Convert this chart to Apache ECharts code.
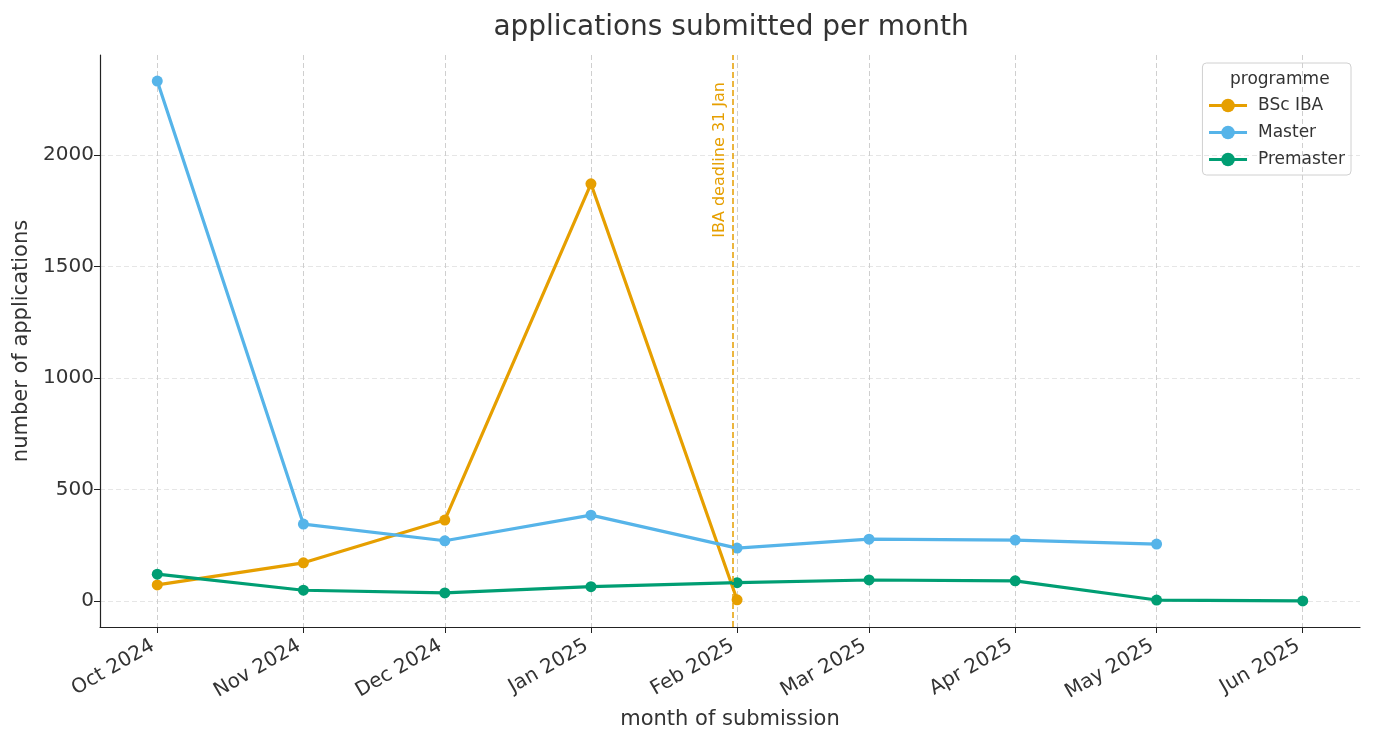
<!DOCTYPE html>
<html><head><meta charset="utf-8">
<script src="https://cdn.jsdelivr.net/npm/echarts@6/dist/echarts.min.js"></script>
<style>html,body{margin:0;padding:0;background:#fff}#c{width:1373px;height:743px}</style>
</head><body><div id="c"></div>
<script>
const months = ['2024-10-01','2024-11-01','2024-12-01','2025-01-01','2025-02-01','2025-03-01','2025-04-01','2025-05-01','2025-06-01'];
const monthLabels = ['Oct 2024','Nov 2024','Dec 2024','Jan 2025','Feb 2025','Mar 2025','Apr 2025','May 2025','Jun 2025'];
const bscIBA = [72, 171, 363, 1872, 5];
const master = [2333, 345, 270, 385, 237, 277, 273, 255];
const premaster = [120, 48, 36, 64, 82, 94, 90, 4, 0];
const yTicks = [0, 500, 1000, 1500, 2000];
const deadline = '2025-01-31';
const deadlineLabel = 'IBA deadline 31 Jan';

function ts(s){ const p=s.split('-').map(Number); return Date.UTC(p[0],p[1]-1,p[2]); }
const monthTs = months.map(ts);
const span = monthTs[monthTs.length-1]-monthTs[0];
const xmin = monthTs[0]-0.05*span, xmax = monthTs[monthTs.length-1]+0.05*span;
const pair = (vals)=>vals.map((v,i)=>[monthTs[i], v]);
const labelOf = {}; monthTs.forEach((t,i)=>labelOf[t]=monthLabels[i]);

const FONT = 'DejaVu Sans';
const chart = echarts.init(document.getElementById('c'));
const mkSeries = (name, data, color) => ({
  name, type:'line', data: pair(data), symbol:'circle', symbolSize:11,
  lineStyle:{width:3.2, color}, itemStyle:{color}, color, z:3
});
const s1 = mkSeries('BSc IBA', bscIBA, '#E69F00');
s1.markLine = {
  silent:true, symbol:'none',
  lineStyle:{type:[6,3], color:'#E69F00', width:1.5},
  data:[{xAxis: ts(deadline)}],
  label:{formatter: deadlineLabel, position:'insideEndTop', color:'#E69F00', fontSize:16, fontFamily:FONT, padding:[0,22,0,0]}
};
chart.setOption({
  animation:false,
  textStyle:{fontFamily:FONT},
  title:[
    {text:'applications submitted per month', left:726, top:9, textAlign:'center',
     textStyle:{fontFamily:FONT, fontSize:28, fontWeight:'normal', color:'#333'}},
    {text:'programme', left:1225, top:66, textStyle:{fontFamily:FONT, fontSize:17, fontWeight:'normal', color:'#333'}}
  ],
  legend:{
    orient:'vertical', right:22, top:63, itemWidth:38, itemHeight:17, itemGap:10,
    padding:[34,6,7,5], borderColor:'#d0d0d0', borderWidth:1, borderRadius:4,
    lineStyle:{width:3.2},
    textStyle:{fontFamily:FONT, fontSize:17, color:'#333', padding:[0,0,0,6]},
    data:['BSc IBA','Master','Premaster']
  },
  grid:{left:100, right:13, top:55, bottom:116, containLabel:false},
  xAxis:{
    type:'value', min:xmin, max:xmax,
    name:'month of submission', nameLocation:'middle', nameGap:82,
    nameTextStyle:{fontFamily:FONT, fontSize:21, color:'#333'},
    axisLine:{show:true, onZero:false, lineStyle:{color:'#222', width:1.2}},
    axisTick:{show:true, length:6, inside:false, customValues:monthTs, lineStyle:{color:'#222'}},
    axisLabel:{customValues:monthTs, rotate:30, fontSize:20, color:'#333', fontFamily:FONT, margin:15,
      padding:[0,5,0,0], formatter:(v)=>labelOf[v] || ''},
    splitLine:{show:true, lineStyle:{type:[5,3], color:'#cfcfcf', width:1}}
  },
  yAxis:{
    type:'value', min:-117, max:2450,
    name:'number of applications', nameLocation:'middle', nameGap:63,
    nameTextStyle:{fontFamily:FONT, fontSize:21, color:'#333'},
    axisLine:{show:true, onZero:false, lineStyle:{color:'#222', width:1.2}},
    axisTick:{show:true, length:6, customValues:yTicks, lineStyle:{color:'#222'}},
    axisLabel:{customValues:yTicks, fontSize:20, color:'#333', fontFamily:FONT, margin:6,
      formatter:(v)=>String(v)},
    splitLine:{show:true, lineStyle:{type:[5,3], color:'#e6e6e6', width:1}}
  },
  series:[s1, mkSeries('Master', master, '#56B4E9'), mkSeries('Premaster', premaster, '#009E73')]
});
</script></body></html>
